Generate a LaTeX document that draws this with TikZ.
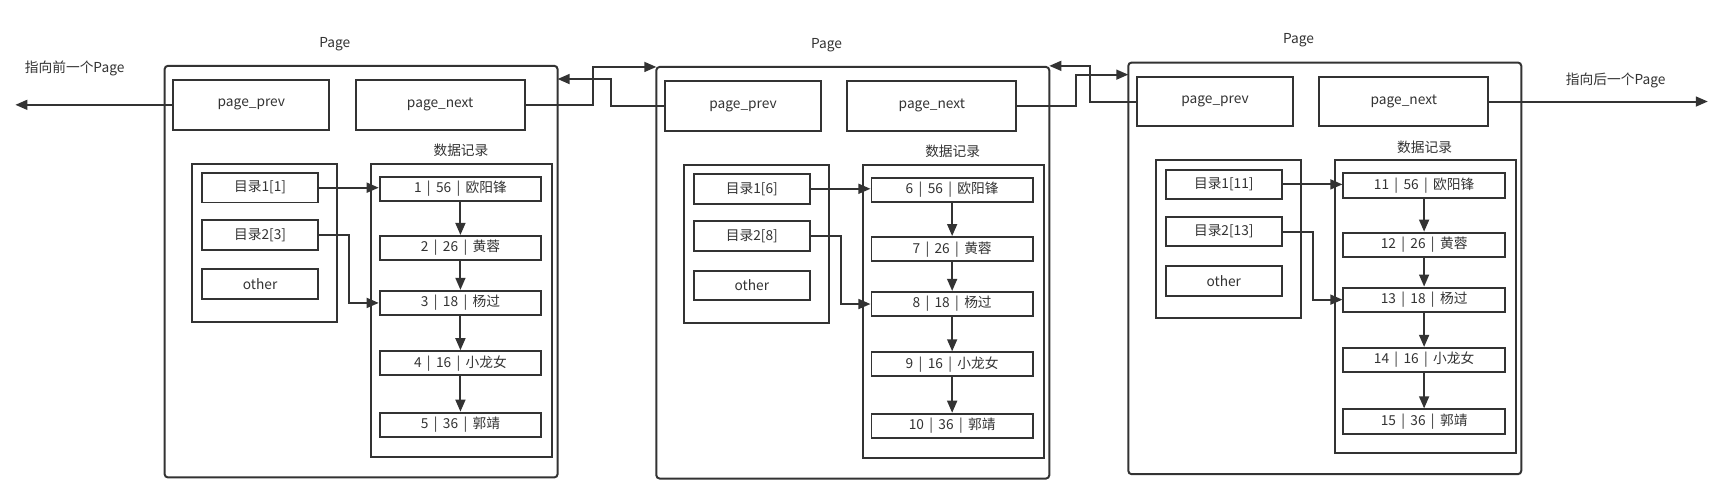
\documentclass[tikz,border=0pt]{standalone}
\usepackage{fontspec}
\setmainfont{Noto Sans CJK SC}
\usetikzlibrary{arrows.meta}
\definecolor{ln}{HTML}{333333}
\tikzset{
  pagebox/.style={draw=ln,line width=1.8pt,rounded corners=3pt},
  box/.style={draw=ln,line width=1.8pt,inner sep=0pt,anchor=center,font=\fontsize{12.5}{14}\selectfont,text=ln},
  lbl/.style={font=\fontsize{12.5}{14}\selectfont,text=ln,inner sep=0pt},
  con/.style={draw=ln,line width=1.8pt,-{Triangle[length=11pt,width=9pt]}},
}
\newcommand\sep{\ \,|\ \,}
\newcommand\mkpage[8]{%
\begin{scope}[shift={(#2,#3)}]
 \draw[pagebox] (0,0) rectangle (358,375);
 \node[lbl] (#1title) at (155,-20) {Page};
 \node[box,minimum width=142pt,minimum height=45pt] (#1prev) at (79,35.5) {page\_prev};
 \node[box,minimum width=154pt,minimum height=45pt] (#1next) at (251,35.5) {page\_next};
 \node[lbl] (#1dl) at (270,77) {数据记录};
 \draw[box] (25,89) rectangle (157,233);
 \draw[box] (188,89) rectangle (353,356);
 \node[box,minimum width=106pt,minimum height=27pt] (#1d1) at (87,111) {目录1[#4]};
 \node[box,minimum width=106pt,minimum height=27pt] (#1d2) at (87,154) {目录2[#5]};
 \node[box,minimum width=106pt,minimum height=27pt] (#1d3) at (87,199) {other};
 \node[box,minimum width=147pt,minimum height=22pt] (#1r1) at (269.5,112) {#6\sep 56\sep 欧阳锋};
 \node[box,minimum width=147pt,minimum height=22pt] (#1r2) at (269.5,166) {#7\sep 26\sep 黄蓉};
 \node[box,minimum width=147pt,minimum height=22pt] (#1r3) at (269.5,216) {#8\sep 18\sep 杨过};
 \node[box,minimum width=147pt,minimum height=22pt] (#1r4) at (269.5,271) {\the\numexpr#8+1\relax\sep 16\sep 小龙女};
 \node[box,minimum width=147pt,minimum height=22pt] (#1r5) at (269.5,327) {\the\numexpr#8+2\relax\sep 36\sep 郭靖};
 \coordinate (#1k) at (168,0);
 \draw[con] (#1d1.east) -- (#1d1.east -| #1r1.west);
 \draw[con] (#1d2.east) -| (#1k |- #1r3.west) -- (#1r3.west);
 \draw[con] (#1r1) -- (#1r2);
 \draw[con] (#1r2) -- (#1r3);
 \draw[con] (#1r3) -- (#1r4);
 \draw[con] (#1r4) -- (#1r5);
\end{scope}}
\begin{document}
\begin{tikzpicture}[x=1pt,y=-1pt]
\fill[white] (0,0) rectangle (1568,444);
\useasboundingbox (0,0) rectangle (1568,444);
\mkpage{a}{150}{60}{1}{3}{1}{2}{3}
\mkpage{b}{598}{61}{6}{8}{6}{7}{8}
\mkpage{c}{1028}{57}{11}{13}{11}{12}{13}
\node[lbl] (lt) at (68,62) {指向前一个Page};
\node[lbl] (rt) at (1472,73) {指向后一个Page};
\coordinate (le) at (14,0);
\coordinate (re) at (1556,0);
\draw[con] (aprev.west) -- (aprev.west -| le);
\draw[con] (cnext.east) -- (cnext.east -| re);
\coordinate (j1) at (540,61);
\coordinate (j2) at (557,72);
\coordinate (j3) at (980,68);
\coordinate (j4) at (993,60);
\draw[con] (anext.east) -| (j1) -- (598,61);
\draw[con] (bprev.west) -| (j2) -- (508,72);
\draw[con] (bnext.east) -| (j3) -- (1028,68);
\draw[con] (cprev.west) -| (j4) -- (956,60);
\end{tikzpicture}
\end{document}
